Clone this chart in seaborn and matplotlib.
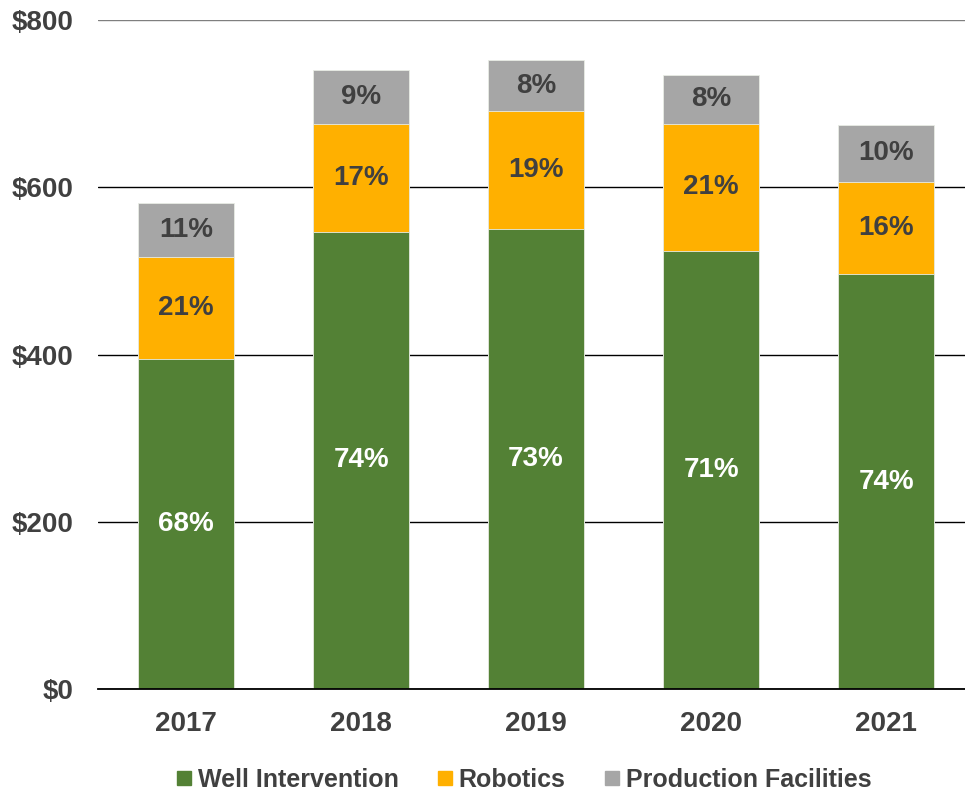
import matplotlib
matplotlib.use("Agg")
import matplotlib.pyplot as plt
from matplotlib.lines import Line2D
import seaborn as sns
import numpy as np

years = ["2017", "2018", "2019", "2020", "2021"]
well_intervention = [395, 547, 550, 524, 496]
robotics = [122, 129, 141, 152, 110]
production_facilities = [64, 64, 61, 58, 69]
well_labels = ["68%", "74%", "73%", "71%", "74%"]
robotics_labels = ["21%", "17%", "19%", "21%", "16%"]
production_labels = ["11%", "9%", "8%", "8%", "10%"]
series_names = ["Well Intervention", "Robotics", "Production Facilities"]
yticks = [0, 200, 400, 600, 800]
ytick_labels = ["$0", "$200", "$400", "$600", "$800"]

GREEN = "#538135"
ORANGE = "#FFB000"
GRAY = "#A6A6A6"
TEXT = "#404040"

sns.set_theme(style="white")
plt.rcParams["font.family"] = ["Liberation Sans", "DejaVu Sans"]

fig = plt.figure(figsize=(9.65, 7.93), dpi=100)
ax = fig.add_axes([0.1016, 0.131, 0.8984, 0.8438])

w = np.array(well_intervention, dtype=float)
r = np.array(robotics, dtype=float)
p = np.array(production_facilities, dtype=float)
tot = w + r + p
wr = w + r

common = dict(width=0.55, saturation=1, edgecolor="#e8ece4", linewidth=0.6, ax=ax, order=years)
sns.barplot(x=years, y=tot, color=GRAY, **common)
sns.barplot(x=years, y=wr, color=ORANGE, **common)
sns.barplot(x=years, y=w, color=GREEN, **common)

for i in range(len(years)):
    ax.text(i, w[i] / 2, well_labels[i], ha="center", va="center",
            fontsize=20, fontweight="bold", color="white")
    ax.text(i, w[i] + r[i] / 2, robotics_labels[i], ha="center", va="center",
            fontsize=20, fontweight="bold", color=TEXT)
    ax.text(i, wr[i] + p[i] / 2, production_labels[i], ha="center", va="center",
            fontsize=20, fontweight="bold", color=TEXT)

ax.set_ylim(0, 800)
ax.set_xlim(-0.503, 4.451)
ax.set_yticks(yticks)
ax.set_yticklabels(ytick_labels)
ax.set_xlabel("")
ax.set_ylabel("")
ax.yaxis.grid(True, color="black", linewidth=1.0)
ax.set_axisbelow(True)
for s in ["left", "top", "right"]:
    ax.spines[s].set_visible(False)
ax.spines["bottom"].set_color("black")
ax.spines["bottom"].set_linewidth(1.3)
ax.tick_params(axis="y", length=0, pad=18, labelsize=20, labelcolor=TEXT)
ax.tick_params(axis="x", length=0, pad=16, labelsize=20, labelcolor=TEXT)
for lab in ax.get_xticklabels() + ax.get_yticklabels():
    lab.set_fontweight("bold")
ax.get_ygridlines()[-1].set_color("#7f7f7f")

handles = [Line2D([], [], marker="s", linestyle="", markersize=10, color=c)
           for c in [GREEN, ORANGE, GRAY]]
fig.legend(handles, series_names, loc="center", bbox_to_anchor=(0.541, 0.017),
           ncol=3, frameon=False, prop={"size": 18, "weight": "bold"},
           labelcolor=TEXT, handletextpad=0.1, columnspacing=1.4, handlelength=0.9)

fig.savefig("out.png", dpi=100)
